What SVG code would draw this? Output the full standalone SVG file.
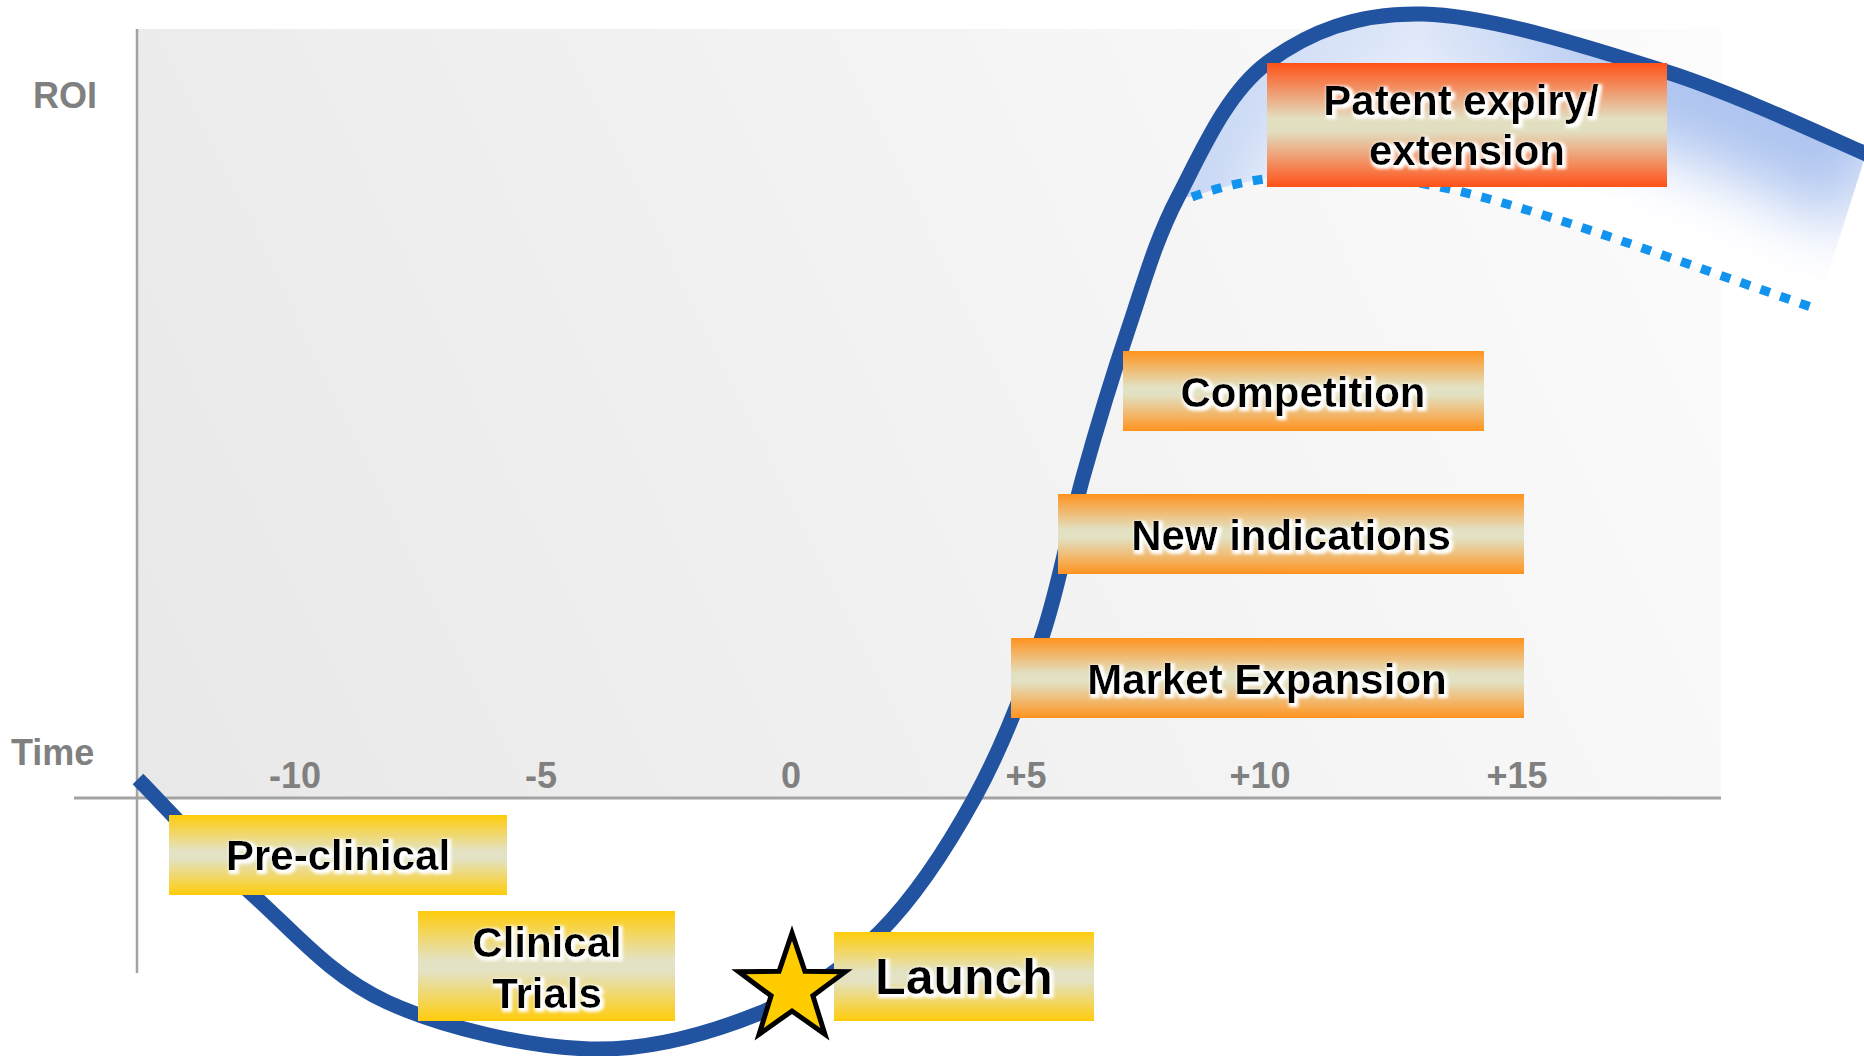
<svg xmlns="http://www.w3.org/2000/svg" width="1864" height="1056" viewBox="0 0 1864 1056">
  <defs>
    <style>
      .axis-label { font-family: "Liberation Sans", Arial, sans-serif; font-weight: bold; font-size: 36px; fill: #808080; }
      .tick { font-family: "Liberation Sans", Arial, sans-serif; font-weight: bold; font-size: 36px; fill: #808080; text-anchor: middle; }
      .label { font-family: "Liberation Sans", Arial, sans-serif; font-weight: bold; font-size: 42px; fill: #000; text-anchor: middle; filter: url(#glow); }
      .big { font-size: 50px; }
      .axis { stroke: #A3A3A3; fill: none; }
      .roi { fill: none; stroke: #2253A1; stroke-width: 15; stroke-linecap: butt; stroke-linejoin: round; }
      .dotted { fill: none; stroke: #1293EE; stroke-width: 9; stroke-dasharray: 10 11; }
    </style>
    <linearGradient id="panelFill" gradientUnits="userSpaceOnUse" x1="137" y1="798" x2="1721" y2="29">
      <stop offset="0" stop-color="#E8E8E8"/>
      <stop offset="1" stop-color="#FCFCFC"/>
    </linearGradient>
    <linearGradient id="yellowFill" x1="0" y1="0" x2="0" y2="1">
      <stop offset="0" stop-color="#FFCC0A"/>
      <stop offset="0.45" stop-color="#E3E2C4"/>
      <stop offset="0.55" stop-color="#E3E2C4"/>
      <stop offset="1" stop-color="#FFCC0A"/>
    </linearGradient>
    <linearGradient id="orangeFill" x1="0" y1="0" x2="0" y2="1">
      <stop offset="0" stop-color="#FF931E"/>
      <stop offset="0.45" stop-color="#E2E1C3"/>
      <stop offset="0.55" stop-color="#E2E1C3"/>
      <stop offset="1" stop-color="#FF931E"/>
    </linearGradient>
    <linearGradient id="redFill" x1="0" y1="0" x2="0" y2="1">
      <stop offset="0" stop-color="#FF5117"/>
      <stop offset="0.45" stop-color="#E2DFC1"/>
      <stop offset="0.55" stop-color="#E2DFC1"/>
      <stop offset="1" stop-color="#FF5117"/>
    </linearGradient>
    <!-- soft white halo behind the box captions -->
    <filter id="glow" x="-10%" y="-30%" width="120%" height="160%">
      <feMorphology in="SourceAlpha" operator="dilate" radius="1.5" result="thick"/>
      <feGaussianBlur in="thick" stdDeviation="1.6" result="soft"/>
      <feOffset in="soft" dx="1.5" dy="1.5" result="shifted"/>
      <feFlood flood-color="#FFFFFF"/>
      <feComposite in2="shifted" operator="in" result="halo"/>
      <feMerge>
        <feMergeNode in="halo"/>
        <feMergeNode in="SourceGraphic"/>
      </feMerge>
    </filter>
    <filter id="shadeBlur" filterUnits="userSpaceOnUse" x="1000" y="-250" width="1000" height="700">
      <feGaussianBlur stdDeviation="32"/>
    </filter>
    <!-- fade the shading towards the peak -->
    <linearGradient id="shadeFade" gradientUnits="userSpaceOnUse" x1="1180" y1="0" x2="1864" y2="0">
      <stop offset="0" stop-color="#FFFFFF" stop-opacity="0.7"/>
      <stop offset="0.35" stop-color="#FFFFFF" stop-opacity="0.4"/>
      <stop offset="0.7" stop-color="#FFFFFF" stop-opacity="1"/>
      <stop offset="1" stop-color="#FFFFFF" stop-opacity="1"/>
    </linearGradient>
    <mask id="shadeMask" maskUnits="userSpaceOnUse" x="1100" y="-20" width="800" height="360">
      <rect x="1100" y="-20" width="800" height="360" fill="url(#shadeFade)"/>
    </mask>
    <!-- area between the actual and the eroded revenue curve -->
    <clipPath id="shadeClip">
      <path d="M1178,197 C1201.2,152.5 1226.2,93.5 1267,63 C1307.8,32.5 1356.3,12.5 1423,14 C1489.7,15.5 1590.8,47.7 1667,72 C1743.2,96.3 1844.5,145.3 1880,160 L1866,154 L1817,309 C1652,252 1520,202 1430,185 C1340,168 1260,172 1192,197 Z"/>
    </clipPath>
  </defs>

  <rect width="1864" height="1056" fill="#FFFFFF"/>

  <!-- chart background and axes -->
  <g id="chart-area">
    <rect x="137" y="29" width="1584" height="769" fill="url(#panelFill)"/>
    <line class="axis" x1="137" y1="29" x2="137" y2="973" stroke-width="2.5"/>
    <line class="axis" x1="74" y1="798" x2="1721" y2="798" stroke-width="3"/>
    <text class="axis-label" x="33" y="108">ROI</text>
    <text class="axis-label" x="11" y="765">Time</text>
    <text class="tick" x="295" y="788">-10</text>
    <text class="tick" x="541" y="788">-5</text>
    <text class="tick" x="791" y="788">0</text>
    <text class="tick" x="1026" y="788">+5</text>
    <text class="tick" x="1260" y="788">+10</text>
    <text class="tick" x="1517" y="788">+15</text>
  </g>

  <!-- revenue curves -->
  <g id="connectors">
    <g clip-path="url(#shadeClip)">
      <rect x="1150" y="0" width="714" height="320" fill="#FFFFFF"/>
      <g mask="url(#shadeMask)">
        <path d="M1128,330 C1143.8,283.3 1154.8,241.5 1178,197 C1201.2,152.5 1226.2,93.5 1267,63 C1307.8,32.5 1356.3,12.5 1423,14 C1489.7,15.5 1590.8,47.7 1667,72 C1743.2,96.3 1844.5,145.3 1880,160" fill="none" stroke="#AFC5F0" stroke-width="150" filter="url(#shadeBlur)"/>
      </g>
    </g>
    <path id="eroded-curve" class="dotted" d="M1192,197 C1260,172 1340,168 1430,185 C1520,202 1652,252 1817,309"/>
    <path id="roi-curve" class="roi" d="M138,779 C157.2,798.3 211.5,857.8 253,895 C294.5,932.2 330.8,976.3 387,1002 C443.2,1027.7 527.8,1047.2 590,1049 C652.2,1050.8 711.7,1032.5 760,1013 C808.3,993.5 844.2,968 880,932 C915.8,896 948,846.2 975,797 C1002,747.8 1024,690.3 1042,637 C1060,583.7 1068.7,528.2 1083,477 C1097.3,425.8 1112.2,376.7 1128,330 C1143.8,283.3 1154.8,241.5 1178,197 C1201.2,152.5 1226.2,93.5 1267,63 C1307.8,32.5 1356.3,12.5 1423,14 C1489.7,15.5 1590.8,47.7 1667,72 C1743.2,96.3 1844.5,145.3 1880,160"/>
  </g>

  <!-- lifecycle stages -->
  <g id="pre-clinical">
    <rect x="169" y="815" width="338" height="80" fill="url(#yellowFill)"/>
    <text class="label" x="338" y="870">Pre-clinical</text>
  </g>
  <g id="clinical-trials">
    <rect x="418" y="911" width="257" height="110" fill="url(#yellowFill)"/>
    <text class="label" x="547" y="957">Clinical</text>
    <text class="label" x="547" y="1008">Trials</text>
  </g>
  <g id="launch">
    <rect x="834" y="932" width="260" height="89" fill="url(#yellowFill)"/>
    <text class="label big" x="964" y="994">Launch</text>
  </g>
  <g id="launch-star">
    <polygon points="792,933 804.9,971.2 845.3,971.7 812.9,995.8 824.9,1034.3 792,1011 759.1,1034.3 771.1,995.8 738.7,971.7 779.1,971.2" fill="#FFCC00" stroke="#000000" stroke-width="5" stroke-linejoin="miter"/>
  </g>
  <g id="market-expansion">
    <rect x="1011" y="638" width="513" height="80" fill="url(#orangeFill)"/>
    <text class="label" x="1267" y="694">Market Expansion</text>
  </g>
  <g id="new-indications">
    <rect x="1058" y="494" width="466" height="80" fill="url(#orangeFill)"/>
    <text class="label" x="1291" y="550">New indications</text>
  </g>
  <g id="competition">
    <rect x="1123" y="351" width="361" height="80" fill="url(#orangeFill)"/>
    <text class="label" x="1303" y="407">Competition</text>
  </g>
  <g id="patent-expiry">
    <rect x="1267" y="63" width="400" height="124" fill="url(#redFill)"/>
    <text class="label" x="1461" y="115">Patent expiry/</text>
    <text class="label" x="1467" y="165">extension</text>
  </g>
</svg>
